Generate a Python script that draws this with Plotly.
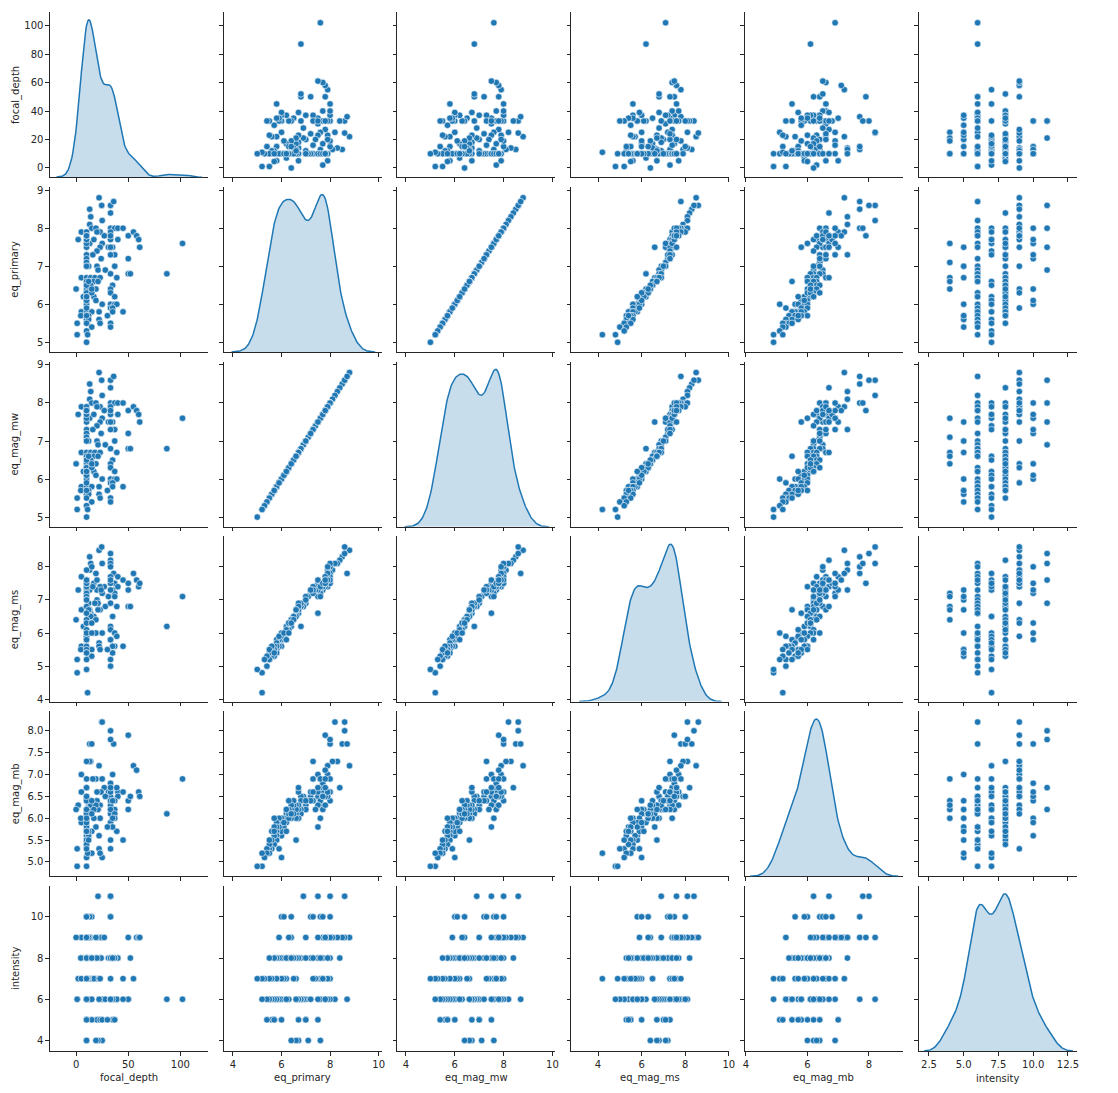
import numpy as np
import plotly.graph_objects as go

variables = ["focal_depth", "eq_primary", "eq_mag_mw", "eq_mag_ms", "eq_mag_mb", "intensity"]

focal_depth = [22, 24.5, 13, 33, 36, 33, 14, 25, 13, 15,
               5, 10, 19, 23, 33, 37, 40, 45, 33, 27,
               50, 55, 58, 60, 61, 2, 10, 13, 17, 25,
               23, 31, 35, 40, 33, 33, 20, 102, 10, 10,
               10, 10, 16, 24, 37, 33, 12, 20, 21, 28,
               37, 50, 50, 52, 87, 33, 5, 10, 14, 18,
               23, 39, 10, 13, 17, 21, 14, 35, 0, 10,
               19, 33, 33, 7, 17, 37, 10, 19, 10, 25,
               33, 37, 39, 33, 35, 5, 10, 15, 22, 35,
               45, 4.5, 10, 12, 30, 10, 12, 22, 1, 10,
               23, 33, 33, 15, 10, 1, 11, 10, 10, 10,
               10, 10, 10, 12, 10, 10, 10, 10, 10, 10,
               15, 20, 33, 10, 10, 10, 15, 10]

eq_primary = [8.8, 8.6, 8.5, 8.6, 8.7, 8.4, 8.3, 8.2, 8.1, 8.0,
              7.9, 7.9, 8.0, 7.9, 8.0, 8.0, 8.0, 8.0, 7.9, 7.8,
              7.8, 7.9, 7.8, 7.7, 7.5, 7.7, 7.6, 7.6, 7.7, 7.6,
              7.5, 7.5, 7.5, 7.7, 7.7, 7.8, 7.4, 7.6, 7.3, 7.2,
              7.1, 7.0, 7.3, 7.2, 7.3, 7.3, 7.0, 7.0, 6.9, 6.9,
              7.0, 7.2, 6.8, 6.8, 6.8, 6.8, 6.7, 6.7, 6.7, 6.7,
              6.7, 6.7, 6.6, 6.6, 6.6, 6.6, 6.5, 6.5, 6.4, 6.4,
              6.4, 6.4, 6.3, 6.2, 6.2, 6.2, 6.1, 6.1, 6.0, 6.0,
              6.0, 6.0, 6.0, 5.9, 5.9, 5.8, 5.8, 5.8, 5.8, 5.8,
              5.8, 5.7, 5.7, 5.7, 5.7, 5.6, 5.6, 5.6, 5.5, 5.5,
              5.5, 5.5, 5.4, 5.4, 5.3, 5.2, 5.2, 5.0, 6.3, 6.5,
              6.3, 7.8, 7.0, 6.6, 7.5, 6.2, 5.9, 5.7, 6.1, 7.6,
              6.3, 7.9, 7.5, 6.2, 7.7, 7.8, 6.4, 7.8]

eq_mag_mw = [8.8, 8.6, 8.5, 8.6, 8.7, 8.4, 8.3, 8.2, 8.1, 8.0,
             7.9, 7.9, 8.0, 7.9, 8.0, 8.0, 8.0, 8.0, 7.9, 7.8,
             7.8, 7.9, 7.8, 7.7, 7.5, 7.7, 7.6, 7.6, 7.7, 7.6,
             7.5, 7.5, 7.5, 7.7, 7.7, 7.8, 7.4, 7.6, 7.3, 7.2,
             7.1, 7.0, 7.3, 7.2, 7.3, 7.3, 7.0, 7.0, 6.9, 6.9,
             7.0, 7.2, 6.8, 6.8, 6.8, 6.8, 6.7, 6.7, 6.7, 6.7,
             6.7, 6.7, 6.6, 6.6, 6.6, 6.6, 6.5, 6.5, 6.4, 6.4,
             6.4, 6.4, 6.3, 6.2, 6.2, 6.2, 6.1, 6.1, 6.0, 6.0,
             6.0, 6.0, 6.0, 5.9, 5.9, 5.8, 5.8, 5.8, 5.8, 5.8,
             5.8, 5.7, 5.7, 5.7, 5.7, 5.6, 5.6, 5.6, 5.5, 5.5,
             5.5, 5.5, 5.4, 5.4, 5.3, 5.2, 5.2, 5.0, 6.3, 6.5,
             6.3, 7.8, 7.0, 6.6, 7.5, 6.2, 5.9, 5.7, 6.1, 7.6,
             6.3, 7.9, 7.5, 6.2, 7.7, 7.8, 6.4, 7.8]

eq_mag_ms = [8.5, 8.6, 8.3, 8.4, 7.8, 8.2, 8.1, 8.1, 7.9, 8.0,
             7.7, 7.9, 7.8, 7.4, 8.1, 7.5, 7.7, 7.6, 8.0, 7.4,
             7.5, 7.8, 7.6, 7.4, 7.5, 7.3, 7.4, 7.3, 7.5, 7.2,
             7.4, 7.1, 7.3, 7.4, 7.5, 7.7, 7.3, 7.1, 7.3, 7.2,
             7.1, 7.0, 7.4, 7.3, 7.2, 7.3, 6.9, 7.0, 6.9, 6.8,
             7.1, 7.3, 6.8, 6.8, 6.2, 6.9, 6.7, 6.8, 6.6, 6.9,
             6.7, 6.8, 6.6, 6.7, 6.5, 6.7, 6.5, 6.5, 6.4, 6.3,
             6.4, 6.2, 6.1, 6.2, 6.0, 6.0, 5.9, 6.0, 5.8, 6.0,
             5.8, 5.6, 5.9, 5.8, 5.6, 5.6, 5.8, 5.5, 5.7, 5.4,
             5.6, 5.5, 5.6, 5.3, 5.5, 5.5, 5.3, 5.6, 5.2, 5.4,
             5.5, 5.2, 5.0, 5.3, 5.2, 4.8, 4.2, 4.9, 6.3, 6.4,
             6.3, 7.6, 7.0, 6.7, 6.6, 6.1, 5.9, 5.4, 6.0, 7.4,
             6.0, 7.6, 7.6, 5.8, 7.5, 7.5, 6.3, 7.6]

eq_mag_mb = [7.2, 8.2, 7.7, 8.0, 7.7, 6.7, 7.3, 8.2, 7.3, 7.7,
             7.0, 6.5, 6.9, 6.6, 7.8, 6.4, 6.6, 6.6, 6.5, 6.7,
             7.9, 7.2, 7.1, 6.6, 6.5, 6.3, 6.7, 6.4, 6.2, 6.9,
             6.3, 6.6, 7.0, 6.5, 6.8, 6.3, 6.2, 6.9, 7.3, 6.5,
             6.4, 6.2, 6.9, 6.6, 6.4, 6.6, 6.3, 6.4, 6.2, 6.5,
             6.2, 6.4, 6.2, 6.5, 6.1, 6.4, 6.6, 6.0, 6.2, 6.3,
             6.0, 6.7, 6.1, 6.3, 6.0, 6.2, 6.3, 6.4, 6.2, 6.0,
             6.3, 6.1, 6.2, 5.9, 6.2, 6.1, 6.0, 5.8, 5.6, 5.1,
             5.9, 6.0, 5.7, 5.8, 6.0, 5.9, 5.5, 5.7, 5.6, 5.8,
             5.5, 6.0, 5.4, 5.6, 5.8, 5.5, 5.7, 5.3, 5.3, 5.4,
             5.2, 5.5, 5.3, 5.2, 5.1, 4.9, 5.2, 4.9, 6.0, 6.1,
             6.1, 6.5, 6.4, 5.5, 5.8, 5.7, 5.3, 5.7, 5.9, 6.0,
             6.4, 6.6, 6.7, 6.2, 6.5, 6.9, 6.1, 6.7]

intensity = [9, 9, 9, 11, 6, 8, 9, 6, 9, 10,
             9, 9, 9, 8, 11, 6, 8, 7, 6, 9,
             9, 7, 9, 9, 9, 7, 7, 10, 7, 4,
             8, 8, 5, 8, 10, 6, 7, 6, 8, 10,
             4, 6, 7, 8, 8, 10, 9, 5, 11, 6,
             5, 6, 6, 8, 6, 6, 8, 4, 6, 8,
             5, 6, 6, 8, 7, 4, 7, 8, 9, 10,
             4, 8, 8, 8, 7, 6, 7, 8, 10, 5,
             7, 8, 6, 6, 8, 7, 8, 8, 7, 6,
             6, 8, 6, 8, 5, 5, 7, 6, 6, 8,
             7, 6, 6, 5, 7, 6, 7, 7, 8, 8,
             9, 6, 8, 6, 6, 8, 9, 5, 10, 8,
             6, 8, 11, 6, 7, 9, 8, 9]

data = {
    "focal_depth": focal_depth,
    "eq_primary": eq_primary,
    "eq_mag_mw": eq_mag_mw,
    "eq_mag_ms": eq_mag_ms,
    "eq_mag_mb": eq_mag_mb,
    "intensity": intensity,
}

x_ticks = {
    "focal_depth": [0, 50, 100],
    "eq_primary": [4, 6, 8, 10],
    "eq_mag_mw": [4, 6, 8, 10],
    "eq_mag_ms": [4, 6, 8, 10],
    "eq_mag_mb": [4, 6, 8],
    "intensity": [2.5, 5.0, 7.5, 10.0, 12.5],
}
y_ticks = {
    "focal_depth": [0, 20, 40, 60, 80, 100],
    "eq_primary": [5, 6, 7, 8, 9],
    "eq_mag_mw": [5, 6, 7, 8, 9],
    "eq_mag_ms": [4, 5, 6, 7, 8],
    "eq_mag_mb": [5.0, 5.5, 6.0, 6.5, 7.0, 7.5, 8.0],
    "intensity": [4, 6, 8, 10],
}
x_fmt = {"intensity": ".1f"}
y_fmt = {"eq_mag_mb": ".1f"}

x_range = {
    "focal_depth": [-25.1, 126.3],
    "eq_primary": [3.62, 10.12],
    "eq_mag_mw": [3.65, 10.12],
    "eq_mag_ms": [2.77, 10.01],
    "eq_mag_mb": [3.97, 9.10],
    "intensity": [1.76, 13.12],
}
y_range = {
    "focal_depth": [-6.5, 109.6],
    "eq_primary": [4.745, 9.09],
    "eq_mag_mw": [4.745, 9.09],
    "eq_mag_ms": [3.93, 8.92],
    "eq_mag_mb": [4.67, 8.45],
    "intensity": [3.48, 11.5],
}

W, H = 1118, 1093
col_left = [48.3, 223.3, 398.3, 573.3, 748.3, 923.3]
cell_w = 159
row_top = [10, 185.6, 361.2, 536.8, 712.4, 888]
cell_h = 166

BLUE = "#1f77b4"
DARK = "#262626"
FONT = "DejaVu Sans"


def sfx(k):
    return "" if k == 1 else str(k)


def kde(values):
    v = np.asarray(values, dtype=float)
    n = v.size
    bw = v.std(ddof=1) * n ** (-0.2)
    grid = np.linspace(v.min() - 3 * bw, v.max() + 3 * bw, 200)
    dens = np.exp(-0.5 * ((grid[:, None] - v[None, :]) / bw) ** 2).sum(axis=1)
    dens /= n * bw * np.sqrt(2 * np.pi)
    return grid, dens


fig = go.Figure()
layout = {}
axis_common = dict(
    showline=True, linecolor=DARK, linewidth=1.1, ticks="outside", ticklen=3.5,
    tickwidth=1, tickcolor=DARK, showgrid=False, zeroline=False,
    tickfont=dict(family=FONT, size=10, color=DARK),
)

for r, rv in enumerate(variables):
    for c, cv in enumerate(variables):
        k = r * 6 + c + 1
        xdom = [col_left[c] / W, (col_left[c] + cell_w) / W]
        ydom = [1 - (row_top[r] + cell_h) / H, 1 - row_top[r] / H]
        xa = dict(axis_common)
        xa.update(
            domain=xdom, range=x_range[cv], anchor="y" + sfx(k), tickmode="array",
            tickvals=x_ticks[cv], showticklabels=(r == 5),
        )
        if cv in x_fmt:
            xa["tickformat"] = x_fmt[cv]
        ya = dict(axis_common)
        ya.update(
            domain=ydom, range=y_range[rv], anchor="x" + sfx(k), tickmode="array",
            tickvals=y_ticks[rv], showticklabels=(c == 0),
        )
        if rv in y_fmt:
            ya["tickformat"] = y_fmt[rv]
        layout["xaxis" + sfx(k)] = xa
        layout["yaxis" + sfx(k)] = ya

        if r == c:
            # empty trace so the frame subplot of the diagonal cell is registered
            fig.add_trace(go.Scatter(
                x=[], y=[], mode="markers", xaxis="x" + sfx(k), yaxis="y" + sfx(k),
                showlegend=False, hoverinfo="skip",
            ))
            # invisible twin subplot carrying the density curve
            g, d = kde(data[cv])
            ok = 37 + r
            layout["xaxis" + str(ok)] = dict(
                domain=xdom, anchor="y" + str(ok), range=x_range[cv],
                visible=False, showgrid=False, zeroline=False, showline=False,
            )
            layout["yaxis" + str(ok)] = dict(
                domain=ydom, anchor="x" + str(ok),
                range=[0, d.max() * 1.05], visible=False,
                showgrid=False, zeroline=False, showline=False,
            )
            fig.add_trace(go.Scatter(
                x=g, y=d, mode="lines", fill="tozeroy",
                fillcolor="rgba(31,119,180,0.25)",
                line=dict(color=BLUE, width=1.5),
                xaxis="x" + str(ok), yaxis="y" + str(ok),
                showlegend=False, hoverinfo="skip",
            ))
        else:
            fig.add_trace(go.Scatter(
                x=data[cv], y=data[rv], mode="markers",
                marker=dict(size=6.5, color=BLUE, line=dict(color="white", width=0.6)),
                xaxis="x" + sfx(k), yaxis="y" + sfx(k),
                showlegend=False,
            ))

annotations = []
for c, cv in enumerate(variables):
    annotations.append(dict(
        text=cv, xref="paper", yref="paper",
        x=(col_left[c] + cell_w / 2) / W, y=1 - 1081 / H,
        xanchor="center", yanchor="middle", showarrow=False,
        font=dict(family=FONT, size=10, color=DARK),
    ))
for r, rv in enumerate(variables):
    annotations.append(dict(
        text=rv, xref="paper", yref="paper",
        x=13.5 / W, y=1 - (row_top[r] + cell_h / 2) / H,
        xanchor="center", yanchor="middle", showarrow=False, textangle=-90,
        font=dict(family=FONT, size=10, color=DARK),
    ))

fig.update_layout(
    width=W, height=H, autosize=False,
    margin=dict(l=0, r=0, t=0, b=0),
    paper_bgcolor="white", plot_bgcolor="rgba(0,0,0,0)",
    showlegend=False, annotations=annotations,
    **layout,
)

fig.write_html("out.html")
